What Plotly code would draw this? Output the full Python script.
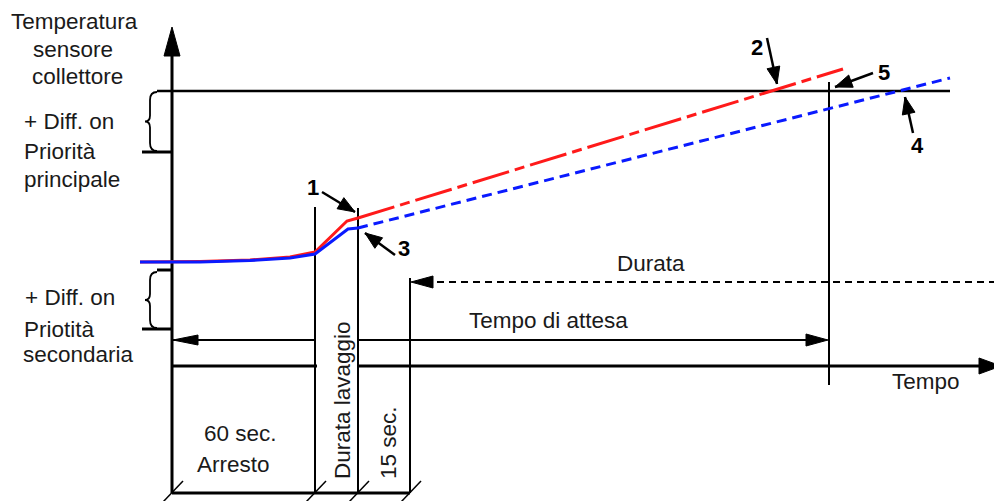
import math
import plotly.graph_objects as go

# diagram units: 1 unit = 1 px, y grows downward (y axis reversed)

# collector sensor temperature, before/while flushing
red_x = [140, 200, 250, 290, 315, 347, 358]
red_y = [262, 261.5, 260, 257, 252, 221, 218]
blue_x = [140, 200, 250, 290, 315, 348, 358]
blue_y = [262, 262, 260.5, 258, 254, 229, 228]

# extrapolated rise after flushing
red_ext_x = [358, 843]
red_ext_y = [218, 69]
blue_ext_x = [358, 950]
blue_ext_y = [228, 78]

# time marks: axis, end stop, end flushing, +15 s, end waiting time
t_axis = 172
t_stop = 315
t_flush = 358
t_15s = 410
t_wait = 829

# temperature levels
y_top = 91          # switch-on temp, main priority
y_top_diff = 152
y_low = 270
y_low_diff = 329
y_durata = 282
y_attesa = 340
y_time = 366
y_bottom = 493

FONT = "Liberation Sans, Arial, sans-serif"
PAGE_OFFSET = 8   # body margin of the html page

fig = go.Figure()

fig.add_trace(go.Scatter(x=red_x, y=red_y, mode="lines",
                         line=dict(color="#ff1a1a", width=3)))
fig.add_trace(go.Scatter(x=blue_x, y=blue_y, mode="lines",
                         line=dict(color="#0a1aff", width=3)))
fig.add_trace(go.Scatter(x=red_ext_x, y=red_ext_y, mode="lines",
                         line=dict(color="#ff1a1a", width=3, dash="38px,6px,10px,6px")))
fig.add_trace(go.Scatter(x=blue_ext_x, y=blue_ext_y, mode="lines",
                         line=dict(color="#0a1aff", width=3, dash="10px,6px")))


def line(x0, y0, x1, y1, w=2, dash=None):
    fig.add_shape(type="line", x0=x0, y0=y0, x1=x1, y1=y1, xref="x", yref="y",
                  line=dict(color="black", width=w, dash=dash), layer="below")


def head(tx, ty, fx, fy, length, half):
    # filled triangle with tip at (tx,ty), pointing away from (fx,fy)
    d = math.hypot(tx - fx, ty - fy)
    ux, uy = (tx - fx) / d, (ty - fy) / d
    bx, by = tx - ux * length, ty - uy * length
    px, py = -uy * half, ux * half
    path = f"M {tx},{ty} L {bx + px},{by + py} L {bx - px},{by - py} Z"
    fig.add_shape(type="path", path=path, xref="x", yref="y",
                  fillcolor="black", line=dict(color="black", width=1))


# axes
line(t_axis, 50, t_axis, y_bottom, 3)
head(t_axis, 27, t_axis, 100, 29, 8)
line(t_axis, y_time, t_stop + 2, y_time, 3)
line(t_flush - 1, y_time, 985, y_time, 3)
head(1001, y_time, 900, y_time, 22, 8)

# levels
line(157, y_top, 950, y_top, 2.5)
line(142, y_top_diff, t_axis, y_top_diff, 3)
line(157, y_low, t_axis, y_low, 3)
line(142, y_low_diff, t_axis, y_low_diff, 3)

# braces
for top, bot in [(y_top + 1, y_top_diff - 1), (y_low + 2, y_low_diff - 1)]:
    mid = (top + bot) / 2
    p = (f"M 157,{top} Q 150,{top} 150,{top + 8} L 150,{mid - 6} "
         f"Q 150,{mid} 145,{mid} Q 150,{mid} 150,{mid + 6} L 150,{bot - 8} "
         f"Q 150,{bot} 157,{bot}")
    fig.add_shape(type="path", path=p, xref="x", yref="y",
                  line=dict(color="black", width=1.8))

# time marks
line(t_stop, 207, t_stop, y_bottom, 2)
line(t_flush, 208, t_flush, y_bottom, 2)
line(t_15s, 278, t_15s, y_bottom, 2)
line(t_wait, 82, t_wait, 385, 2)
line(t_axis, y_bottom, t_15s, y_bottom, 3)
for tx in [t_axis, t_stop, t_flush, t_15s]:
    line(tx - 9, 502, tx + 11, 481, 1.5)

# Durata (dashed) and Tempo di attesa arrows
line(t_15s + 15, y_durata, 1002, y_durata, 2, "7px,5px")
head(t_15s + 1, y_durata, 600, y_durata, 22, 6)
line(t_axis, y_attesa, t_stop, y_attesa, 2)
line(t_flush, y_attesa, t_wait - 10, y_attesa, 2)
head(t_axis + 1, y_attesa, 300, y_attesa, 25, 5)
head(t_wait - 1, y_attesa, 600, y_attesa, 22, 6)

# numbered callouts: label, text pos, arrow tail, arrow tip
callouts = [
    ("1", 313, 187, 322, 192, 355, 212),
    ("2", 757, 47, 767, 38, 777, 84),
    ("3", 404, 248, 395, 255, 365, 233),
    ("4", 917, 145, 913, 133, 905, 97),
    ("5", 884, 72, 873, 73, 835, 87),
]
for lab, lx, ly, ax, ay, tx, ty in callouts:
    line(ax, ay, tx, ty, 2.5)
    head(tx, ty, ax, ay, 17, 6.5)
    fig.add_annotation(x=lx, y=ly, text=f"<b>{lab}</b>", showarrow=False,
                       font=dict(size=22, family=FONT, color="black"))

# texts: (text, x, y, xanchor, angle)
texts = [
    ("Temperatura", 74, 21, "center", 0),
    ("sensore", 73, 49, "center", 0),
    ("collettore", 77, 76, "center", 0),
    ("+ Diff. on", 22, 121, "left", 0),
    ("Priorità", 22, 151, "left", 0),
    ("principale", 22, 179, "left", 0),
    ("+ Diff. on", 23, 297, "left", 0),
    ("Priotità", 22, 329, "left", 0),
    ("secondaria", 21, 354, "left", 0),
    ("60 sec.", 240, 433, "center", 0),
    ("Arresto", 233, 464, "center", 0),
    ("Durata lavaggio", 342, 400, "center", -90),
    ("15 sec.", 388, 443, "center", -90),
    ("Durata", 651, 263, "center", 0),
    ("Tempo di attesa", 548, 320, "center", 0),
    ("Tempo", 926, 381, "center", 0),
]
for txt, tx, ty, anc, ang in texts:
    fig.add_annotation(x=tx, y=ty, text=txt, showarrow=False, xanchor=anc,
                       yanchor="middle", textangle=ang,
                       font=dict(size=22.5, family=FONT, color="#1a1a1a"))

fig.update_layout(
    width=1002, height=501,
    margin=dict(l=0, r=0, t=0, b=0),
    paper_bgcolor="white", plot_bgcolor="white",
    showlegend=False,
    xaxis=dict(range=[PAGE_OFFSET, 1002 + PAGE_OFFSET], visible=False, fixedrange=True),
    yaxis=dict(range=[501 + PAGE_OFFSET, PAGE_OFFSET], visible=False, fixedrange=True),
)

fig.write_html("out.html")
